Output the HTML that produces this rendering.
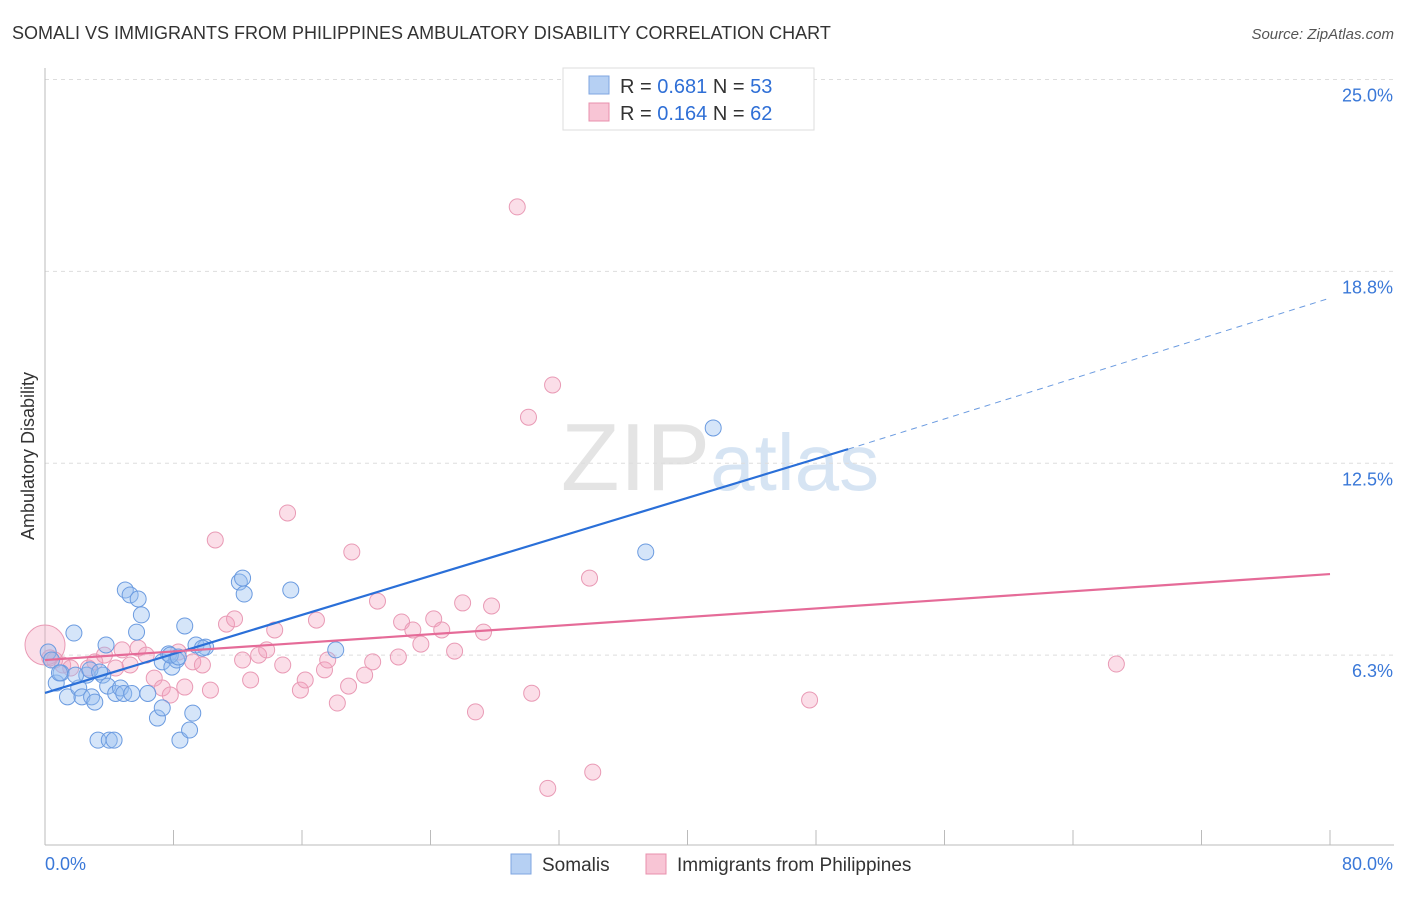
<!DOCTYPE html>
<html><head><meta charset="utf-8"><style>
body{margin:0;background:#fff;font-family:"Liberation Sans",sans-serif;}
svg text{font-family:"Liberation Sans",sans-serif;}
</style></head><body>
<svg id="c" width="1406" height="892" xmlns="http://www.w3.org/2000/svg">
<text x="12" y="39" font-size="18" fill="#333">SOMALI VS IMMIGRANTS FROM PHILIPPINES AMBULATORY DISABILITY CORRELATION CHART</text>
<text x="1394" y="39" font-size="15" fill="#555" text-anchor="end" font-style="italic">Source: ZipAtlas.com</text>
<text x="720" y="490" font-size="96" fill="#e4e4e4" text-anchor="middle" font-family="Liberation Serif">ZIP<tspan fill="#d6e4f3" font-family="Liberation Sans" font-size="80">atlas</tspan></text>
<text transform="translate(34,456) rotate(-90)" font-size="18" fill="#333" text-anchor="middle">Ambulatory Disability</text>
<g id="grid"></g><g id="marks"></g>
<g>
<rect x="563" y="68" width="251" height="62" fill="#fff" stroke="#ddd"/>
<rect x="589" y="76" width="20" height="18" fill="#b6d0f3" stroke="#7fa6e0"/>
<text x="620" y="93" font-size="20" fill="#333">R = <tspan fill="#2f6fd6">0.681</tspan>   N = <tspan fill="#2f6fd6">53</tspan></text>
<rect x="589" y="103" width="20" height="18" fill="#f8c5d5" stroke="#e890ad"/>
<text x="620" y="120" font-size="20" fill="#333">R = <tspan fill="#2f6fd6">0.164</tspan>   N = <tspan fill="#2f6fd6">62</tspan></text>
</g>
<g>
<rect x="511" y="854" width="20" height="20" fill="#b6d0f3" stroke="#7fa6e0"/>
<text x="542" y="871" font-size="19" fill="#333">Somalis</text>
<rect x="646" y="854" width="20" height="20" fill="#f8c5d5" stroke="#e890ad"/>
<text x="677" y="871" font-size="19" fill="#333">Immigrants from Philippines</text>
</g>
</svg>
<script>
const yTicks=[6.25,12.5,18.75,25];
const yTickLabels=["6.3%","12.5%","18.8%","25.0%"];
const xTicks=[0,8,16,24,32,40,48,56,64,72,80];
const blueX=[0.2,0.4,0.7,1.0,1.4,1.8,2.1,2.3,2.6,2.9,3.1,3.3,3.6,3.8,3.9,4.0,4.3,4.4,4.7,4.9,5.0,5.3,5.4,5.7,5.8,6.0,6.4,7.0,7.3,7.3,7.7,7.9,8.2,8.4,8.7,9.0,9.2,9.4,10.0,12.1,12.4,12.3,15.3,18.1,37.4,41.6,0.9,1.9,2.8,3.4,7.8,8.3,9.8];
const blueY=[6.35,6.09,5.34,5.67,4.89,6.97,5.18,4.89,5.6,4.89,4.72,3.48,5.6,6.58,5.24,3.48,3.48,5.0,5.18,5.0,8.37,8.21,5.0,7.0,8.08,7.56,5.0,4.2,4.53,6.03,6.29,5.86,6.09,3.48,7.2,3.81,4.36,6.58,6.51,8.63,8.24,8.76,8.37,6.42,9.61,13.65,5.67,5.6,5.77,5.7,6.25,6.19,6.48];
const pinkX=[0,0.6,1.1,1.6,2.7,3.1,3.7,4.4,4.8,5.3,5.8,6.3,6.8,7.3,7.8,8.3,8.7,9.2,9.8,10.3,10.6,11.3,11.8,12.3,12.8,13.3,13.8,14.3,14.8,15.1,15.9,16.2,16.9,17.4,17.6,18.2,18.9,19.1,19.9,20.4,20.7,22.0,22.2,22.9,23.4,24.2,24.7,25.5,26.0,26.8,27.3,27.8,29.4,30.1,30.3,31.6,31.3,33.9,34.1,47.6,66.7,0.3];
const pinkY=[6.58,6.09,5.93,5.83,5.83,6.03,6.25,5.83,6.42,5.93,6.48,6.25,5.5,5.18,4.95,6.35,5.21,6.03,5.93,5.11,10.0,7.26,7.43,6.09,5.44,6.25,6.42,7.07,5.93,10.88,5.11,5.44,7.39,5.77,6.09,4.69,5.24,9.61,5.6,6.03,8.01,6.19,7.33,7.07,6.61,7.43,7.07,6.38,7.95,4.4,7.0,7.85,20.85,14.0,5.01,15.05,1.91,8.76,2.44,4.79,5.96,6.16];
const blueLineX=[0,50,80];
const blueLineY=[5.02,12.96,17.88];
const pinkLineX=[0,80];
const pinkLineY=[6.09,8.89];
const X=v=>45+v*16.0625;
const Y=v=>847-v*30.7;
const NS="http://www.w3.org/2000/svg";
const grid=document.getElementById('grid'),marks=document.getElementById('marks');
function mk(tag,attrs,parent){const e=document.createElementNS(NS,tag);for(const k in attrs)e.setAttribute(k,attrs[k]);parent.appendChild(e);return e;}
yTicks.forEach((t,i)=>{
 const l=mk('line',{x1:45,x2:1394,y1:Y(t),y2:Y(t),stroke:'#ddd','stroke-dasharray':'4,4'},grid);
 
 
 const tx=mk('text',{x:1393,y:Y(t)+22,'font-size':18,fill:'#3a78d8','text-anchor':'end'},grid);
 tx.textContent=yTickLabels[i];
 
 
});
const ax=mk('line',{x1:45,x2:1394,y1:845,y2:845,stroke:'#bbb'},grid);


const ay=mk('line',{x1:45,x2:45,y1:68,y2:845,stroke:'#bbb'},grid);


xTicks.forEach(t=>{
 const l=mk('line',{x1:X(t),x2:X(t),y1:830,y2:845,stroke:'#bbb'},grid);
 
 
});
[["0.0%",45,'start'],["80.0%",1393,'end']].forEach(a=>{
 const tx=mk('text',{x:a[1],y:870,'font-size':18,fill:'#3a78d8','text-anchor':a[2]},grid);
 tx.textContent=a[0];
 
 
});
pinkX.forEach((x,i)=>{
 const c=mk('circle',{cx:X(x),cy:Y(pinkY[i]),r:i==0?20:8,fill:'rgba(244,160,190,0.35)',stroke:'#e99ab5','stroke-width':1},marks);
 
 
});
blueX.forEach((x,i)=>{
 const c=mk('circle',{cx:X(x),cy:Y(blueY[i]),r:8,fill:'rgba(150,190,240,0.4)',stroke:'#6b9be0','stroke-width':1},marks);
 
 
});
const b1=mk('line',{x1:X(blueLineX[0]),y1:Y(blueLineY[0]),x2:X(blueLineX[1]),y2:Y(blueLineY[1]),stroke:'#2a6fd8','stroke-width':2.2},marks);


const b2=mk('line',{x1:X(blueLineX[1]),y1:Y(blueLineY[1]),x2:X(blueLineX[2]),y2:Y(blueLineY[2]),stroke:'#6b9be0','stroke-width':1,'stroke-dasharray':'6,5'},marks);


const p1=mk('line',{x1:X(pinkLineX[0]),y1:Y(pinkLineY[0]),x2:X(pinkLineX[1]),y2:Y(pinkLineY[1]),stroke:'#e56b98','stroke-width':2.2},marks);


</script>
</body></html>
